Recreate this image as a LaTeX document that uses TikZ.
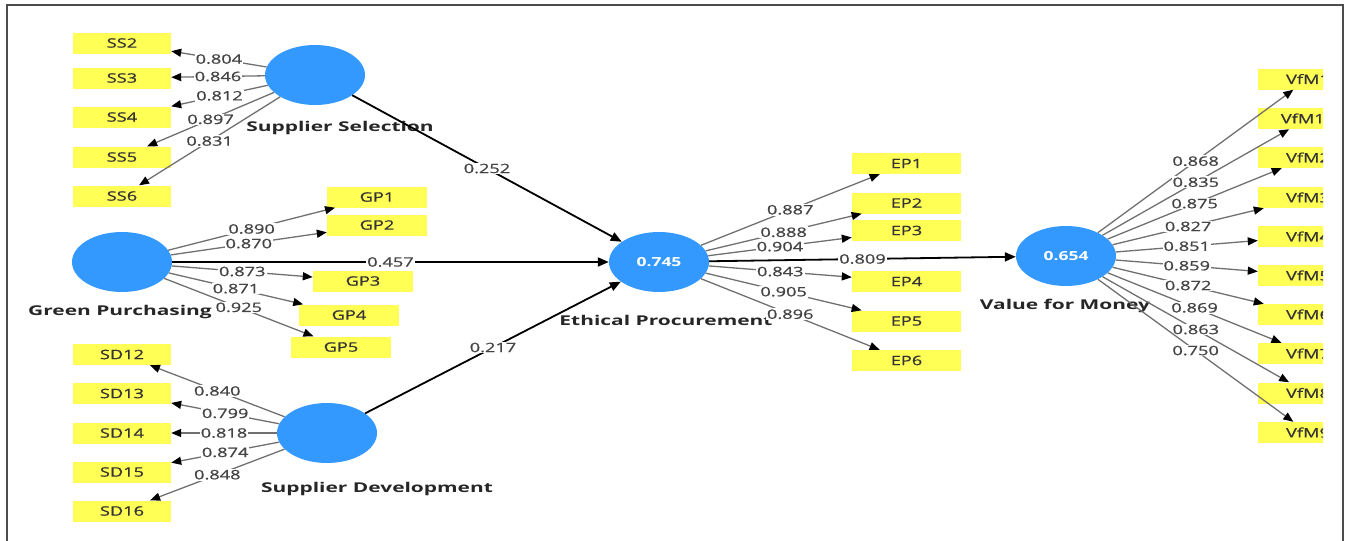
\documentclass[tikz,border=0pt]{standalone}
\usepackage{fontspec}
\setmainfont[FakeStretch=1.4]{Open Sans}
\newfontfamily\medfont[FakeStretch=1.4, FakeBold=0.8]{Open Sans}
\newfontfamily\lvfont[FakeStretch=1.55]{Open Sans}
\usepackage{xcolor}
\usepackage{tikz}
\usetikzlibrary{arrows.meta,shapes.geometric}
\definecolor{plsBlue}{HTML}{3399FF}
\definecolor{plsYellow}{HTML}{FFFF55}
\definecolor{plsGrey}{HTML}{707070}
\definecolor{plsText}{HTML}{444444}

\begin{document}
\begin{tikzpicture}[x=1pt, y=-1pt,
    latent/.style={ellipse, fill=plsBlue, minimum width=100pt, minimum height=60pt,
      inner sep=0pt, text=white, font=\fontsize{12.5}{12.5}\selectfont\bfseries},
    indicator/.style={fill=plsYellow, minimum width=98pt, minimum height=21pt,
      inner sep=0pt, text=black!80, font=\medfont\fontsize{13}{13}\selectfont},
    lvname/.style={font=\lvfont\fontsize{13.5}{13.5}\selectfont\bfseries, text=black!85},
    loading/.style={draw=plsGrey, line width=1.3pt,
      -{Triangle[length=10pt,width=8pt,color=black]}},
    pathcoef/.style={draw=black, line width=1.8pt,
      -{Triangle[length=11pt,width=9pt,color=black]}},
    coef/.style={midway, fill=white, inner sep=1pt, text=plsText,
      font=\medfont\fontsize{13}{13}\selectfont}]
  \useasboundingbox (0,0) rectangle (1345,541);
  \draw[black!70, line width=1.3pt] (7,541) -- (7,5) -- (1343,5) -- (1343,541);

  % constructs
  \node[latent] (SS) at (315,75) {};
  \node[latent] (GP) at (122,262) {};
  \node[latent] (SD) at (327,433) {};
  \node[latent] (EP) at (659,262) {0.745};
  \node[latent] (VfM) at (1066,256) {0.654};
  \node[lvname] (SSname) at (340,128) {Supplier Selection};
  \node[lvname] (GPname) at (120,312) {Green Purchasing};
  \node[lvname] (SDname) at (377,489) {Supplier Development};
  \node[lvname] (EPname) at (666,320) {Ethical Procurement};
  \node[lvname] (VfMname) at (1065,306) {Value for Money};

  % indicators
  \foreach \n/\y in {2/43, 3/78, 4/117, 5/157, 6/196}
    \node[indicator] (ss\n) at (122,\y) {SS\n};
  \foreach \n/\x/\y in {1/377/197, 2/377/225, 3/363/281, 4/349/315, 5/341/347}
    \node[indicator, minimum width=100pt] (gp\n) at (\x,\y) {GP\n};
  \foreach \n/\y in {12/354.5, 13/393.5, 14/433, 15/472, 16/511}
    \node[indicator] (sd\n) at (122,\y) {SD\n};
  \foreach \n/\y in {1/163.5, 2/203, 3/230.5, 4/281.5, 5/321, 6/360.5}
    \node[indicator, minimum width=109pt] (ep\n) at (906.5,\y) {EP\n};
  \begin{scope}
    \clip (0,0) rectangle (1323,541);
    \foreach \n/\y in {1/79, 10/118.5, 2/157.5, 3/197.5, 4/236.5, 5/275.5,
        6/314.5, 7/353.5, 8/393, 9/432.5}
      \node[indicator, minimum width=100pt] (vfm\n) at (1308,\y) {VfM\n};
  \end{scope}

  % outer loadings
  \foreach \n/\v in {2/0.804, 3/0.846, 4/0.812, 5/0.897, 6/0.831}
    \draw[loading] (SS) -- (ss\n) node[coef] {\v};
  \foreach \n/\v in {1/0.890, 2/0.870, 3/0.873, 4/0.871, 5/0.925}
    \draw[loading] (GP) -- (gp\n) node[coef] {\v};
  \foreach \n/\v in {12/0.840, 13/0.799, 14/0.818, 15/0.874, 16/0.848}
    \draw[loading] (SD) -- (sd\n) node[coef] {\v};
  \foreach \n/\v in {1/0.887, 2/0.888, 3/0.904, 4/0.843, 5/0.905, 6/0.896}
    \draw[loading] (EP) -- (ep\n) node[coef] {\v};
  \foreach \n/\v in {1/0.868, 10/0.835, 2/0.875, 3/0.827, 4/0.851, 5/0.859,
      6/0.872, 7/0.869, 8/0.863, 9/0.750}
    \draw[loading] (VfM) -- (vfm\n) node[coef] {\v};

  % path coefficients
  \draw[pathcoef] (SS) -- (EP) node[coef] {0.252};
  \draw[pathcoef] (GP) -- (EP) node[coef] {0.457};
  \draw[pathcoef] (SD) -- (EP) node[coef] {0.217};
  \draw[pathcoef] (EP) -- (VfM) node[coef] {0.809};
\end{tikzpicture}
\end{document}
